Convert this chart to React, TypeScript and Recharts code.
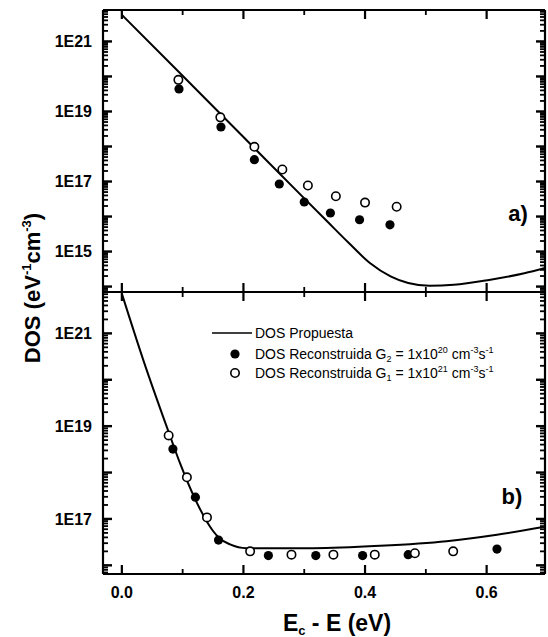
import { ComposedChart, Line, Scatter, XAxis, YAxis } from "recharts";

// ---- panel a) ----
const lineA = [
  { e: 0.0, dos: 5.75e21 },
  { e: 0.093, dos: 1.38e20 },
  { e: 0.2, dos: 1.86e18 },
  { e: 0.3, dos: 3.3e16 },
  { e: 0.338, dos: 7.2e15 },
  { e: 0.373, dos: 1.78e15 },
  { e: 0.408, dos: 4.7e14 },
  { e: 0.442, dos: 1.95e14 },
  { e: 0.471, dos: 1.26e14 },
  { e: 0.506, dos: 1.05e14 },
  { e: 0.546, dos: 1.12e14 },
  { e: 0.604, dos: 1.55e14 },
  { e: 0.662, dos: 2.4e14 },
  { e: 0.696, dos: 3.4e14 },
];
const g1A = [
  { e: 0.093, dos: 8.0e19 },
  { e: 0.162, dos: 6.8e18 },
  { e: 0.218, dos: 9.8e17 },
  { e: 0.264, dos: 2.2e17 },
  { e: 0.306, dos: 7.7e16 },
  { e: 0.352, dos: 3.8e16 },
  { e: 0.4, dos: 2.5e16 },
  { e: 0.452, dos: 1.9e16 },
];
const g2A = [
  { e: 0.094, dos: 4.4e19 },
  { e: 0.163, dos: 3.6e18 },
  { e: 0.218, dos: 4.2e17 },
  { e: 0.259, dos: 8.5e16 },
  { e: 0.3, dos: 2.6e16 },
  { e: 0.343, dos: 1.26e16 },
  { e: 0.391, dos: 8.1e15 },
  { e: 0.441, dos: 5.8e15 },
];

// ---- panel b) ----
const lineB = [
  { e: 0.0, dos: 7.2e21 },
  { e: 0.036, dos: 2.5e20 },
  { e: 0.076, dos: 8.1e18 },
  { e: 0.096, dos: 1.55e18 },
  { e: 0.119, dos: 2.95e17 },
  { e: 0.142, dos: 7.9e16 },
  { e: 0.15, dos: 5.5e16 },
  { e: 0.161, dos: 3.8e16 },
  { e: 0.178, dos: 2.82e16 },
  { e: 0.205, dos: 2.34e16 },
  { e: 0.315, dos: 2.34e16 },
  { e: 0.425, dos: 2.63e16 },
  { e: 0.534, dos: 3.31e16 },
  { e: 0.617, dos: 4.57e16 },
  { e: 0.696, dos: 6.76e16 },
];
const g1B = [
  { e: 0.077, dos: 6.3e18 },
  { e: 0.107, dos: 7.9e17 },
  { e: 0.14, dos: 1.08e17 },
  { e: 0.211, dos: 2.0e16 },
  { e: 0.279, dos: 1.7e16 },
  { e: 0.348, dos: 1.7e16 },
  { e: 0.416, dos: 1.7e16 },
  { e: 0.482, dos: 1.82e16 },
  { e: 0.545, dos: 2.0e16 },
];
const g2B = [
  { e: 0.084, dos: 3.2e18 },
  { e: 0.121, dos: 2.95e17 },
  { e: 0.159, dos: 3.5e16 },
  { e: 0.241, dos: 1.62e16 },
  { e: 0.319, dos: 1.62e16 },
  { e: 0.396, dos: 1.62e16 },
  { e: 0.471, dos: 1.7e16 },
  { e: 0.617, dos: 2.24e16 },
];

const xDomain = [-0.031, 0.696];
const xTicks = [0, 0.1, 0.2, 0.3, 0.4, 0.5, 0.6];
const xLabels = [0, 0.2, 0.4, 0.6];
const domainA = [7.0e13, 7.9e21];
const domainB = [6.5e15, 7.8e21];
const labelsA = [15, 17, 19, 21];
const labelsB = [17, 19, 21];

const FONT = '"Liberation Sans", Arial, Helvetica, sans-serif';

function logTicks(lo: number, hi: number) {
  const out: number[] = [];
  for (let k = 12; k <= 22; k++) {
    for (let d = 1; d <= 9; d++) {
      const v = d * Math.pow(10, k);
      if (v >= lo && v <= hi) out.push(v);
    }
  }
  return out;
}

// inward ticks, labels only on the left
function YTick(props: any) {
  const { x, y, payload, side, labels } = props;
  const v = payload.value;
  const ex = Math.round(Math.log10(v));
  const major = Math.abs(v / Math.pow(10, ex) - 1) < 1e-6;
  const len = major ? 9 : 5;
  const th = major ? 2.4 : 1.8;
  const px = Number(x);
  const py = Number(y);
  const rx = side === "left" ? px : px - len;
  return (
    <g>
      <rect x={rx} y={py - th / 2} width={len} height={th} fill="#000" />
      {side === "left" && major && labels.includes(ex) && (
        <text x={px - 11} y={py} dy="0.36em" textAnchor="end" fontFamily={FONT} fontSize={16} fontWeight="bold" fill="#000">
          {"1E" + ex}
        </text>
      )}
    </g>
  );
}

function XTick(props: any) {
  const { x, y, payload, side, showLabels } = props;
  const v = payload.value;
  const major = xLabels.some((m) => Math.abs(m - v) < 1e-6);
  const len = major ? 9 : 5;
  const th = major ? 2.2 : 1.8;
  const px = Number(x);
  const py = Number(y);
  const ry = side === "bottom" ? py - len : py;
  return (
    <g>
      <rect x={px - th / 2} y={ry} width={th} height={len} fill="#000" />
      {showLabels && major && (
        <text x={px} y={py + 23.5} textAnchor="middle" fontFamily={FONT} fontSize={16} fontWeight="bold" fill="#000">
          {v.toFixed(1)}
        </text>
      )}
    </g>
  );
}

const filledDot = (p: any) => <circle cx={p.cx} cy={p.cy} r={4.6} fill="#000" />;
const openDot = (p: any) => <circle cx={p.cx} cy={p.cy} r={4.2} fill="#fff" stroke="#000" strokeWidth={1.6} />;

const axisLine = { stroke: "#000", strokeWidth: 2.2 };

function Panel({
  line, g1, g2, domain, labels, height, margin, bottomH, showX,
}: {
  line: any[]; g1: any[]; g2: any[]; domain: number[]; labels: number[];
  height: number; margin: any; bottomH: number; showX: boolean;
}) {
  const yTicks = logTicks(domain[0], domain[1]);
  return (
    <ComposedChart width={548} height={height} margin={margin}>
      <XAxis
        xAxisId="b" dataKey="e" type="number" domain={xDomain} allowDataOverflow
        ticks={xTicks} interval={0} height={bottomH} tickSize={0} tickMargin={0}
        axisLine={axisLine} tickLine={false}
        tick={(p: any) => <XTick {...p} side="bottom" showLabels={showX} />}
      />
      <XAxis
        xAxisId="t" orientation="top" dataKey="e" type="number" domain={xDomain} allowDataOverflow
        ticks={xTicks} interval={0} height={2} tickSize={0} tickMargin={0}
        axisLine={axisLine} tickLine={false}
        tick={(p: any) => <XTick {...p} side="top" showLabels={false} />}
      />
      <YAxis
        yAxisId="l" dataKey="dos" scale="log" type="number" domain={domain} allowDataOverflow
        ticks={yTicks} interval={0} width={103} tickSize={0} tickMargin={0}
        axisLine={axisLine} tickLine={false}
        tick={(p: any) => <YTick {...p} side="left" labels={labels} />}
      />
      <YAxis
        yAxisId="r" orientation="right" dataKey="dos" scale="log" type="number" domain={domain} allowDataOverflow
        ticks={yTicks} interval={0} width={3} tickSize={0} tickMargin={0}
        axisLine={axisLine} tickLine={false}
        tick={(p: any) => <YTick {...p} side="right" labels={labels} />}
      />
      <Line
        xAxisId="b" yAxisId="l" data={line} dataKey="dos" type="monotone"
        stroke="#000" strokeWidth={2} dot={false} isAnimationActive={false}
      />
      <Scatter xAxisId="b" yAxisId="l" data={g2} dataKey="dos" shape={filledDot} isAnimationActive={false} />
      <Scatter xAxisId="b" yAxisId="l" data={g1} dataKey="dos" shape={openDot} isAnimationActive={false} />
    </ComposedChart>
  );
}

export default function App() {
  return (
    <div style={{ position: "absolute", left: 0, top: 0, width: 548, height: 637, background: "#fff", fontFamily: FONT }}>
      <div style={{ position: "absolute", left: 0, top: 0 }}>
        <Panel line={lineA} g1={g1A} g2={g2A} domain={domainA} labels={labelsA}
          height={300} margin={{ top: 8, right: 0, bottom: 6, left: 0 }} bottomH={2} showX={false} />
      </div>
      <div style={{ position: "absolute", left: 0, top: 280 }}>
        <Panel line={lineB} g1={g1B} g2={g2B} domain={domainB} labels={labelsB}
          height={357} margin={{ top: 10, right: 0, bottom: 0, left: 0 }} bottomH={63} showX={true} />
      </div>
      <svg width={548} height={637} style={{ position: "absolute", left: 0, top: 0, pointerEvents: "none" }}>
        <g fontFamily={FONT} fill="#000">
          <text x={518} y={213} dy="0.36em" textAnchor="middle" fontSize={22} fontWeight="bold">a)</text>
          <text x={512} y={496} dy="0.36em" textAnchor="middle" fontSize={22} fontWeight="bold">b)</text>

          <text x={337} y={631} textAnchor="middle" fontSize={23} fontWeight="bold">
            E<tspan fontSize={13} dy={4}>c</tspan>
            <tspan dy={-4}> - E  (eV)</tspan>
          </text>

          <text transform="translate(40,288) rotate(-90)" textAnchor="middle" fontSize={22} fontWeight="bold">
            DOS (eV<tspan fontSize={13} dy={-9}>-1</tspan>
            <tspan dy={9}>cm</tspan>
            <tspan fontSize={13} dy={-9}>-3</tspan>
            <tspan dy={9}>)</tspan>
          </text>

          <line x1={212} x2={252} y1={333} y2={333} stroke="#000" strokeWidth={1.5} />
          <text x={255} y={338} fontSize={14}>DOS Propuesta</text>

          <circle cx={235} cy={354} r={4.6} fill="#000" />
          <text x={255} y={359} fontSize={14}>
            DOS Reconstruida G<tspan fontSize={9} dy={3}>2</tspan>
            <tspan dy={-3}> = 1x10</tspan>
            <tspan fontSize={9} dy={-6}>20</tspan>
            <tspan dy={6}> cm</tspan>
            <tspan fontSize={9} dy={-6}>-3</tspan>
            <tspan dy={6}>s</tspan>
            <tspan fontSize={9} dy={-6}>-1</tspan>
          </text>

          <circle cx={235} cy={373} r={4.2} fill="#fff" stroke="#000" strokeWidth={1.6} />
          <text x={255} y={378} fontSize={14}>
            DOS Reconstruida G<tspan fontSize={9} dy={3}>1</tspan>
            <tspan dy={-3}> = 1x10</tspan>
            <tspan fontSize={9} dy={-6}>21</tspan>
            <tspan dy={6}> cm</tspan>
            <tspan fontSize={9} dy={-6}>-3</tspan>
            <tspan dy={6}>s</tspan>
            <tspan fontSize={9} dy={-6}>-1</tspan>
          </text>
        </g>
      </svg>
    </div>
  );
}
